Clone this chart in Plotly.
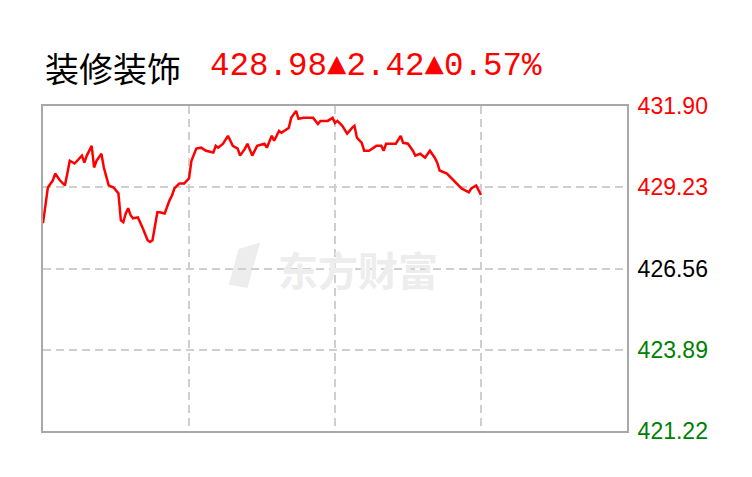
import plotly.graph_objects as go

# ---- data ----
title_text = "装修装饰"
last_price = "428.98"
change = "2.42"
change_pct = "0.57%"

minutes = [0, 1, 2, 4, 5, 7, 9, 10, 11, 13, 14, 16, 17, 18, 20, 21, 22, 24, 25, 26,
           27, 29, 31, 32, 33, 34, 35, 36, 37, 39, 40, 41, 43, 44, 45, 47, 48, 50, 52, 53,
           54, 56, 58, 60, 61, 63, 65, 67, 70, 71, 72, 74, 76, 78, 80, 81, 83, 84, 86, 88,
           91, 92, 94, 95, 97, 98, 101, 102, 104, 105, 107, 111, 113, 114, 117, 119, 120, 121, 123, 125,
           127, 128, 129, 131, 132, 134, 137, 139, 140, 141, 145, 147, 148, 150, 152, 153, 155, 157, 159, 161,
           162, 163, 166, 168, 170, 172, 175, 176, 178, 179, 180]
prices = [428.05, 428.70, 429.22, 429.45, 429.68, 429.45, 429.29, 429.68, 430.10, 430.01,
          430.10, 430.27, 430.04, 430.27, 430.59, 429.88, 430.10, 430.33, 429.88, 429.55,
          429.29, 429.22, 429.03, 428.14, 428.08, 428.37, 428.54, 428.31, 428.21, 428.24,
          428.08, 427.88, 427.49, 427.43, 427.49, 428.41, 428.41, 428.37, 428.80, 428.96,
          429.19, 429.35, 429.35, 429.52, 430.10, 430.50, 430.53, 430.43, 430.37, 430.59,
          430.53, 430.66, 430.92, 430.59, 430.50, 430.27, 430.50, 430.66, 430.27, 430.59,
          430.66, 430.53, 430.92, 430.76, 431.08, 431.02, 431.18, 431.51, 431.74, 431.48,
          431.51, 431.51, 431.31, 431.41, 431.41, 431.51, 431.34, 431.41, 431.25, 430.99,
          431.18, 431.25, 430.86, 430.69, 430.43, 430.43, 430.59, 430.59, 430.43, 430.66,
          430.66, 430.92, 430.69, 430.66, 430.43, 430.27, 430.33, 430.20, 430.43, 430.20,
          430.04, 429.78, 429.68, 429.52, 429.35, 429.19, 429.06, 429.19, 429.29, 429.12,
          428.98]

y_ticks = [421.22, 423.89, 426.56, 429.23, 431.90]
y_tick_labels = ["421.22", "423.89", "426.56", "429.23", "431.90"]
y_tick_colors = ["#008000", "#008000", "#000000", "#ff0000", "#ff0000"]
x_grid = [0, 60, 120, 180, 240]

fig = go.Figure()
fig.add_trace(go.Scatter(x=minutes, y=prices, mode="lines",
                         line=dict(color="#ff0000", width=2.5), hoverinfo="skip"))

ticktext = [f'<span style="color:{c}">{t}</span>' for t, c in zip(y_tick_labels, y_tick_colors)]

fig.update_layout(
    width=752, height=477,
    margin=dict(l=35, r=133, t=98, b=54),
    paper_bgcolor="white", plot_bgcolor="white",
    showlegend=False,
    xaxis=dict(range=[0, 240], tickvals=x_grid, showticklabels=False,
               showgrid=True, gridcolor="#cfcfcf", griddash="8px,5px", gridwidth=1.5,
               showline=True, mirror=True, linecolor="#a8a8a8", linewidth=2,
               zeroline=False, ticks=""),
    yaxis=dict(range=[y_ticks[0], y_ticks[-1]], side="right",
               tickvals=y_ticks, ticktext=ticktext,
               tickfont=dict(family="Liberation Sans, Arial", size=23),
               showgrid=True, gridcolor="#cfcfcf", griddash="8px,5px", gridwidth=1.5,
               showline=True, mirror=True, linecolor="#a8a8a8", linewidth=2,
               zeroline=False, ticks="", ticklabelstandoff=4),
)

# watermark
fig.add_annotation(xref="paper", yref="paper", x=0.539, y=0.5, xanchor="center", yanchor="middle",
                   text="<b>东方财富</b>", showarrow=False,
                   font=dict(family="Noto Sans CJK SC", size=40, color="#ededed"))
fig.add_shape(type="path", xref="paper", yref="paper",
              path="M 0.318 0.45 L 0.335 0.56 L 0.372 0.58 L 0.35 0.44 Z",
              fillcolor="#ededed", line=dict(width=0), layer="below")

# title
fig.add_annotation(xref="paper", yref="paper", x=0.0, y=1.117, xanchor="left", yanchor="middle",
                   text=title_text, showarrow=False,
                   font=dict(family="Noto Sans CJK SC", size=34, color="#000000"))
fig.add_annotation(xref="paper", yref="paper", x=0.2825, y=1.123, xanchor="left", yanchor="middle",
                   text=f"{last_price}▲{change}▲{change_pct}", showarrow=False,
                   font=dict(family="Liberation Mono", size=32.5, color="#ff0000"))

fig.write_html("out.html")
